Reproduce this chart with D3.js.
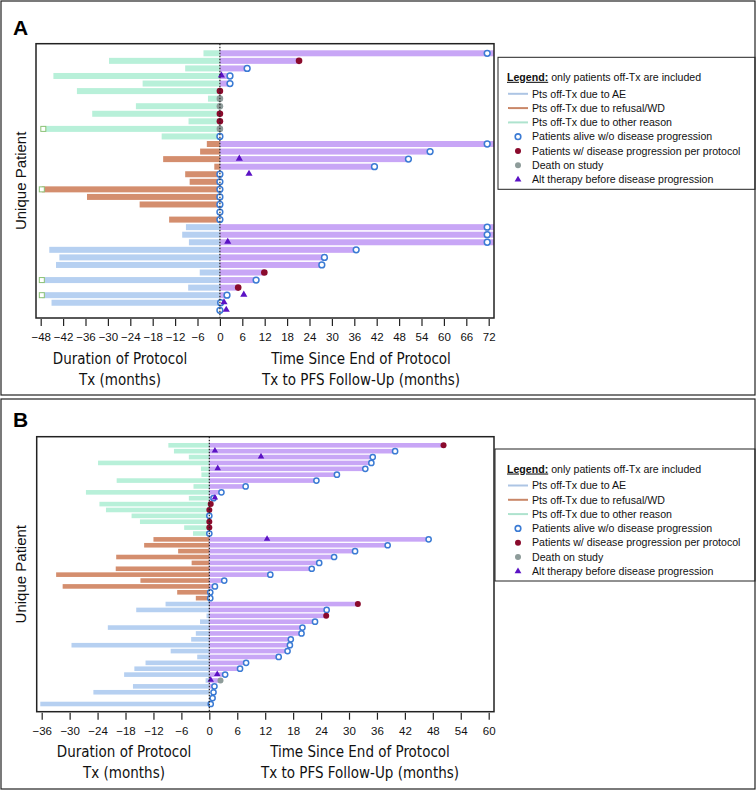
<!DOCTYPE html>
<html>
<head>
<meta charset="utf-8">
<script src="https://cdn.jsdelivr.net/npm/d3@7"></script>
<style>
  body { margin: 0; background: #fff; }
  svg { font-family: "Liberation Sans", Arial, sans-serif; }
  .tick text { font-size: 11.5px; fill: #111; }
  .ttl { font-family: "Liberation Sans Narrow", "DejaVu Sans Condensed", sans-serif; font-size: 15px; fill: #111; }
  .leg { font-size: 10.6px; fill: #111; }
</style>
</head>
<body>
<div id="chart"></div>
<script>
// ---------- data: panel A (one entry per patient, top to bottom) ----------
// reason off-Tx: O = other reason, R = refusal/WD, E = adverse event
const reasonA = ["O","O","O","O","O","O","O","O","O","O","O","O",
                 "R","R","R","R","R","R","R","R","R","R","R",
                 "E","E","E","E","E","E","E","E","E","E","E","E"];
const txA = [-4.4, -29.7, -9.3, -44.6, -20.7, -38.3, -3.2, -22.5, -34.2, -8.4, -47.3, -15.6,
             -3.5, -5.3, -15.2, -1.5, -9.3, -8.1, -47.7, -35.6, -21.5, 0, -13.6,
             -9.1, -10.1, -8.3, -45.7, -43.0, -43.9, -5.4, -47.7, -8.5, -47.7, -45.1, 0];
const followA = [74, 21.2, 7.2, 2.7, 2.7, 0, 0, 0, 0, 0, 0, 0,
                 74, 56.3, 50.5, 41.4, 0, 0, 0, 0, 0, 0, 0,
                 74, 74, 74, 36.5, 28.0, 27.3, 11.9, 9.7, 4.9, 1.9, 0, 0];
// outcome: a = alive w/o progression, p = progression, d = death on study
const eventA = ["a","p","a","a","a","p","d","d","p","p","d","a",
                "a","a","a","a","a","a","a","a","a","a","a",
                "a","a","a","a","a","a","p","a","p","a","a","a"];
const eventAtA = [71.6, 21.2, 7.3, 2.7, 2.7, 0, 0, 0, 0, 0, 0, 0,
                  71.6, 56.3, 50.5, 41.4, 0, 0, 0, 0, 0, 0, 0,
                  71.6, 71.6, 71.6, 36.5, 28.0, 27.3, 11.9, 9.7, 4.9, 1.9, 0.2, 0];
const altA = [null, null, null, 0.4, null, null, null, null, null, null, null, null,
              null, null, 5.2, null, 7.8, null, null, null, null, null, null,
              null, null, 2.1, null, null, null, null, null, null, 6.4, 1.1, 1.7];
const truncA = [10, 18, 30, 32];
const ticksA = [-48, -42, -36, -30, -24, -18, -12, -6, 0, 6, 12, 18, 24, 30, 36, 42, 48, 54, 60, 66, 72];

// ---------- data: panel B ----------
const reasonB = ["O","O","O","O","O","O","O","O","O","O","O","O","O","O","O","O",
                 "R","R","R","R","R","R","R","R","R","R","R",
                 "E","E","E","E","E","E","E","E","E","E","E","E","E","E","E","E","E","E"];
const txB = [-8.8, -7.6, -4.4, -23.9, -1.8, -1.7, -19.9, -3.4, -26.5, -4.4, -23.6, -22.2, -16.7, -14.9, -5.4, -3.5,
             -12.0, -14.0, -6.7, -20.0, -3.8, -20.1, -32.9, -14.8, -31.5, -6.9, -2.9,
             -9.4, -15.7, -0.6, -2.0, -21.8, -2.9, -3.9, -29.6, -8.3, -2.6, -13.7, -16.1, -18.3, -0.8, -16.4, -24.9, 0, -36.3];
const followB = [50.3, 39.9, 35.1, 34.8, 33.5, 27.4, 23.0, 7.8, 2.6, 1.1, 0, 0, 0, 0, 0, 0,
                 47.1, 38.3, 31.3, 26.8, 23.6, 22.0, 13.1, 3.2, 1.2, 0, 0,
                 31.9, 25.2, 25.1, 22.7, 20.0, 19.8, 17.5, 17.3, 16.8, 14.9, 7.9, 6.6, 3.4, 2.4, 1.1, 0, 0, 0];
const eventB = ["p","a","a","a","a","a","a","a","a","a","p","p","a","p","p","a",
                "a","a","a","a","a","a","a","a","a","a","a",
                "p","a","p","a","a","a","a","a","a","a","a","a","a","d","a","a","a","a"];
const eventAtB = [50.3, 39.9, 35.1, 34.8, 33.5, 27.4, 23.0, 7.8, 2.6, 0.9, 0.3, 0, 0, 0, 0, 0,
                  47.1, 38.3, 31.3, 26.8, 23.6, 22.0, 13.1, 3.2, 1.2, 0.2, 0.2,
                  31.9, 25.2, 25.1, 22.7, 20.0, 19.8, 17.5, 17.3, 16.8, 14.9, 7.9, 6.6, 3.4, 2.4, 1.1, 0.9, 0.7, 0.3];
const altB = [null, 1.2, 11.1, null, 1.8, null, null, null, null, 1.2, null, null, null, null, null, null,
              12.4, null, null, null, null, null, null, null, null, null, null,
              null, null, null, null, null, null, null, null, null, null, null, null, 1.7, 0.3, null, null, null, null];
const truncB = [];
const ticksB = [-36, -30, -24, -18, -12, -6, 0, 6, 12, 18, 24, 30, 36, 42, 48, 54, 60];

const legendItems = [
  {kind: "line", key: "E", label: "Pts off-Tx due to AE"},
  {kind: "line", key: "R", label: "Pts off-Tx due to refusal/WD"},
  {kind: "line", key: "O", label: "Pts off-Tx due to other reason"},
  {kind: "a", label: "Patients alive w/o disease progression"},
  {kind: "p", label: "Patients w/ disease progression per protocol"},
  {kind: "d", label: "Death on study"},
  {kind: "t", label: "Alt therapy before disease progression"}
];

// ---------- styles ----------
const barColor = {E: "#b6d0f1", R: "#d48e6e", O: "#b8f0d9"};
const followColor = "#c8a6f6";
const progColor = "#8a0a2c";
const deathColor = "#8e9c9a";
const altColor = "#5b12c4";
const aliveColor = "#3b7bd4";

const W = 756, H = 792;
const svg = d3.select("#chart").append("svg")
    .attr("width", W)
    .attr("height", H);

function drawPanel(p) {
    let g = svg.append("g");

    // outer panel box
    g.append("rect")
        .attr("x", 1).attr("y", p.boxTop)
        .attr("width", W - 2).attr("height", p.boxBottom - p.boxTop)
        .attr("fill", "none").attr("stroke", "#222").attr("stroke-width", 1.2);

    g.append("text")
        .attr("x", 13).attr("y", p.letterY)
        .attr("font-size", 21).attr("font-weight", "bold")
        .text(p.letter);

    let x = d3.scaleLinear().domain([p.ticks[0], p.ticks[p.ticks.length - 1]]).range(p.xRange);
    let y = d3.scaleLinear().domain([0, p.tx.length - 1]).range(p.yRange);
    let f = p.frame;

    let rows = p.tx.map((t, i) => ({
        i: i,
        reason: p.reason[i],
        tx: t,
        follow: p.follow[i],
        event: p.event[i],
        eventAt: p.eventAt[i],
        alt: p.alt[i],
        trunc: p.trunc.includes(i)
    }));

    let clipId = "clip" + p.letter;
    g.append("clipPath").attr("id", clipId)
        .append("rect")
        .attr("x", f.l).attr("y", f.t)
        .attr("width", f.r - f.l).attr("height", f.b - f.t);

    let plot = g.append("g").attr("clip-path", `url(#${clipId})`);

    // duration of treatment (left)
    plot.selectAll(".txbar")
        .data(rows.filter(d => d.tx < 0))
        .enter()
        .append("rect")
        .attr("class", "txbar")
        .attr("x", d => x(d.tx))
        .attr("y", d => y(d.i) - p.barH / 2)
        .attr("width", d => x(0) - x(d.tx))
        .attr("height", p.barH)
        .attr("fill", d => barColor[d.reason]);

    // follow-up after end of treatment (right)
    plot.selectAll(".fubar")
        .data(rows.filter(d => d.follow > 0))
        .enter()
        .append("rect")
        .attr("class", "fubar")
        .attr("x", x(0))
        .attr("y", d => y(d.i) - p.barH / 2)
        .attr("width", d => x(d.follow) - x(0))
        .attr("height", p.barH)
        .attr("fill", followColor);

    // zero line
    g.append("line")
        .attr("x1", x(0)).attr("x2", x(0))
        .attr("y1", f.t).attr("y2", f.b)
        .attr("stroke", "#222").attr("stroke-width", 1.2)
        .attr("stroke-dasharray", "1.5,1.5");

    // truncated bars
    plot.selectAll(".trunc")
        .data(rows.filter(d => d.trunc))
        .enter()
        .append("rect")
        .attr("x", d => x(d.tx) - 2.5)
        .attr("y", d => y(d.i) - 2.5)
        .attr("width", 5).attr("height", 5)
        .attr("fill", "#fff").attr("stroke", "#8cc276").attr("stroke-width", 1);

    // outcome markers
    plot.selectAll(".ev")
        .data(rows.filter(d => d.event))
        .enter()
        .append("circle")
        .attr("cx", d => x(d.eventAt))
        .attr("cy", d => y(d.i))
        .attr("r", d => d.event == "a" ? p.r - 0.4 : p.r)
        .attr("fill", d => d.event == "a" ? "#fff" : (d.event == "p" ? progColor : deathColor))
        .attr("stroke", d => d.event == "a" ? aliveColor : "none")
        .attr("stroke-width", 1.5);

    // alternative therapy
    let tri = d3.symbol().type(d3.symbolTriangle).size(p.triSize);
    plot.selectAll(".alt")
        .data(rows.filter(d => d.alt != null))
        .enter()
        .append("path")
        .attr("d", tri)
        .attr("transform", d => `translate(${x(d.alt)},${y(d.i) - 0.5})`)
        .attr("fill", altColor);

    // frame
    g.append("rect")
        .attr("x", f.l).attr("y", f.t)
        .attr("width", f.r - f.l).attr("height", f.b - f.t)
        .attr("fill", "none").attr("stroke", "#222").attr("stroke-width", 1.5);

    // axis
    let axis = g.append("g")
        .attr("transform", `translate(0,${f.b + 1})`)
        .call(d3.axisBottom(x).tickValues(p.ticks).tickSize(7).tickPadding(7).tickSizeOuter(0));
    axis.select(".domain").remove();
    axis.selectAll(".tick line").attr("stroke", "#222").attr("stroke-width", 1.2);

    // axis titles
    let t1 = g.append("text").attr("class", "ttl").attr("text-anchor", "middle");
    t1.append("tspan").attr("x", p.leftTitleX).attr("y", p.titleY).text("Duration of Protocol");
    t1.append("tspan").attr("x", p.leftTitleX).attr("y", p.titleY + 21).text("Tx (months)");
    let t2 = g.append("text").attr("class", "ttl").attr("text-anchor", "middle");
    t2.append("tspan").attr("x", p.rightTitleX).attr("y", p.titleY).text("Time Since End of Protocol");
    t2.append("tspan").attr("x", p.rightTitleX).attr("y", p.titleY + 21).text("Tx to PFS Follow-Up (months)");

    g.append("text")
        .attr("transform", `translate(26,${(f.t + f.b) / 2}) rotate(-90)`)
        .attr("text-anchor", "middle")
        .attr("font-size", 15)
        .attr("fill", "#111")
        .text("Unique Patient");

    // legend
    let lg = g.append("g");
    lg.append("rect")
        .attr("x", p.legendX).attr("y", p.legendY - 20)
        .attr("width", W - 1 - p.legendX).attr("height", 132)
        .attr("fill", "none").attr("stroke", "#222").attr("stroke-width", 1);
    let head = lg.append("text").attr("class", "leg")
        .attr("x", 507).attr("y", p.legendY + 3.5);
    head.append("tspan").attr("font-weight", "bold").attr("text-decoration", "underline").text("Legend:");
    head.append("tspan").text(" only patients off-Tx are included");

    let item = lg.selectAll(".li")
        .data(legendItems)
        .enter()
        .append("g")
        .attr("transform", (d, i) => `translate(0,${p.legendY + 16.5 + i * 14.3})`);
    item.filter(d => d.kind == "line").append("line")
        .attr("x1", 508).attr("x2", 528)
        .attr("stroke", d => d3.color(barColor[d.key]).darker(0.15))
        .attr("stroke-width", 2);
    item.filter(d => d.kind == "a").append("circle")
        .attr("cx", 518).attr("r", 2.8)
        .attr("fill", "#fff").attr("stroke", aliveColor).attr("stroke-width", 1.6);
    item.filter(d => d.kind == "p" || d.kind == "d").append("circle")
        .attr("cx", 518).attr("r", 3)
        .attr("fill", d => d.kind == "p" ? progColor : deathColor);
    item.filter(d => d.kind == "t").append("path")
        .attr("d", d3.symbol().type(d3.symbolTriangle).size(20))
        .attr("transform", "translate(518,0)")
        .attr("fill", altColor);
    item.append("text").attr("class", "leg")
        .attr("x", 532).attr("y", 3.7)
        .text(d => d.label);
}

drawPanel({
    letter: "A", letterY: 35, boxTop: 1, boxBottom: 395,
    reason: reasonA, tx: txA, follow: followA, event: eventA, eventAt: eventAtA, alt: altA, trunc: truncA,
    ticks: ticksA,
    frame: {l: 36, r: 494, t: 43.7, b: 318},
    xRange: [40.7, 488.7], yRange: [53.3, 310.3],
    barH: 6, r: 3.3, triSize: 22,
    titleY: 364, leftTitleX: 120, rightTitleX: 361,
    legendX: 498, legendY: 77.3
});

drawPanel({
    letter: "B", letterY: 427, boxTop: 399, boxBottom: 789,
    reason: reasonB, tx: txB, follow: followB, event: eventB, eventAt: eventAtB, alt: altB, trunc: truncB,
    ticks: ticksB,
    frame: {l: 36.7, r: 494, t: 436.7, b: 711.7},
    xRange: [41.7, 488.7], yRange: [445.3, 704],
    barH: 4.6, r: 3, triSize: 18,
    titleY: 757, leftTitleX: 124, rightTitleX: 360,
    legendX: 495, legendY: 469
});
</script>
</body>
</html>
